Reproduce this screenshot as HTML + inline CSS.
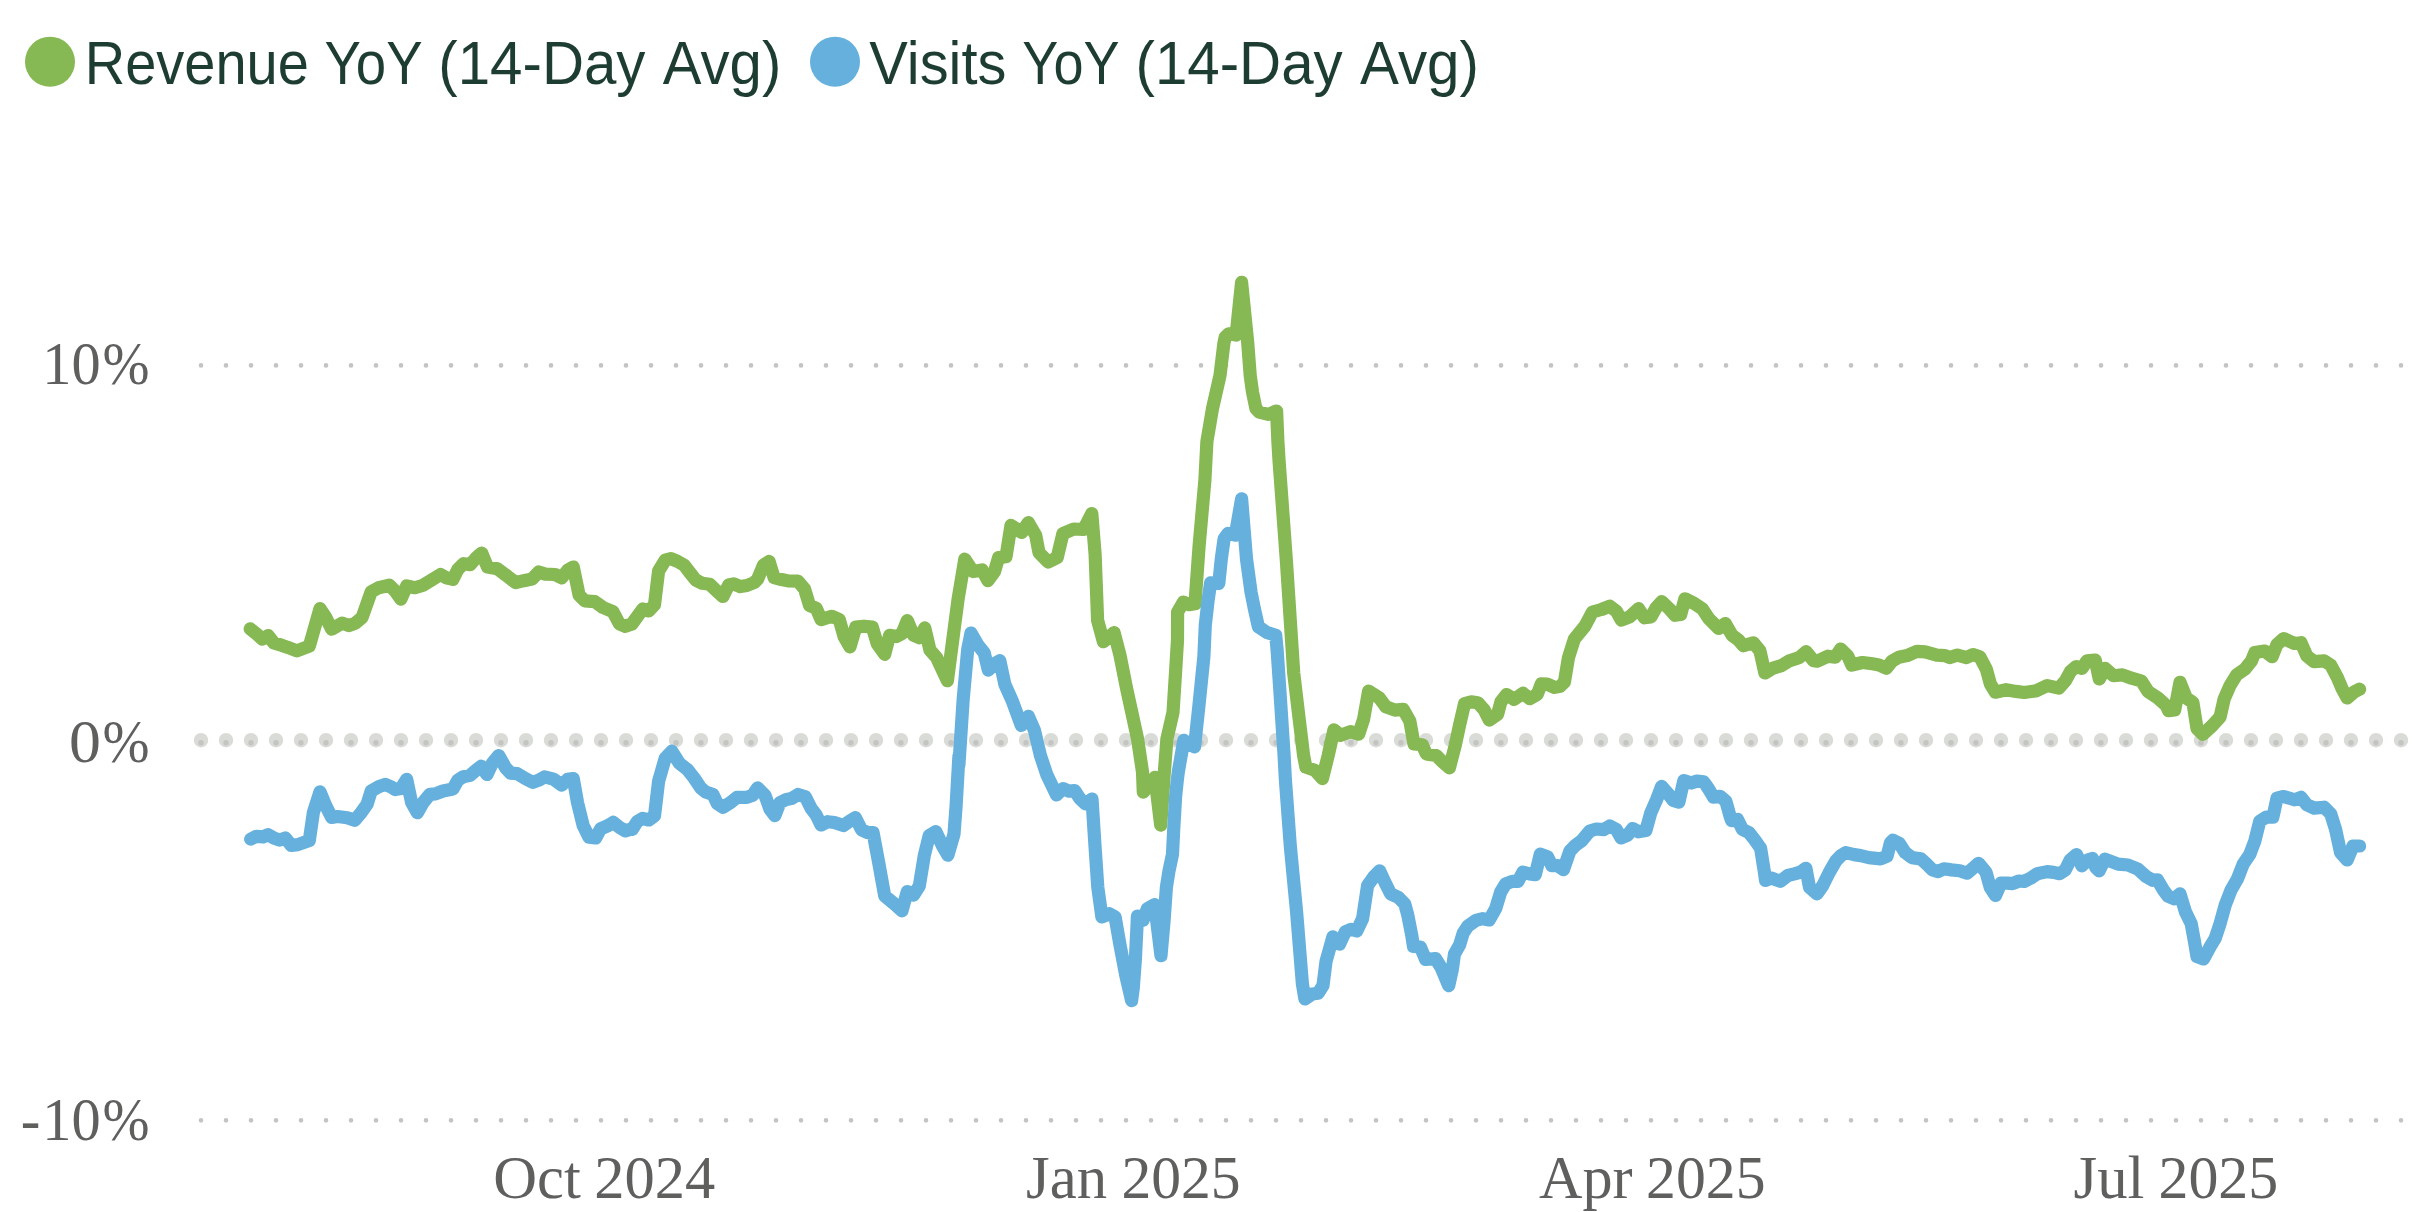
<!DOCTYPE html>
<html><head><meta charset="utf-8"><title>chart</title>
<style>
html,body{margin:0;padding:0;background:#fff;}
body{width:2432px;height:1212px;overflow:hidden;position:relative;}
svg{position:absolute;left:0;top:0;display:block;}
.lg{font-family:"Liberation Sans",sans-serif;font-size:61px;fill:#1e3d32;}
.ax{font-family:"Liberation Serif",serif;font-size:61.5px;fill:#5f605e;}
</style></head><body>
<svg width="2432" height="1212" viewBox="0 0 2432 1212">
<rect width="2432" height="1212" fill="#ffffff"/>
<!-- gridlines -->
<g fill="none" stroke-linecap="round">
<path d="M201,365.4 H2401.5" stroke="#c4c4c2" stroke-width="4.7" stroke-dasharray="0 25"/>
<path d="M201,1120.3 H2401.5" stroke="#c4c4c2" stroke-width="4.7" stroke-dasharray="0 25"/>
<path d="M201,740.2 H2401.5" stroke="#d9dbd7" stroke-width="14.4" stroke-dasharray="0 25"/>
<path d="M201,742.8 H2401.5" stroke="#c4c4c2" stroke-width="5.4" stroke-dasharray="0 25"/>
</g>
<!-- series -->
<g fill="none" stroke-linecap="round" stroke-linejoin="round" stroke-width="13.2">
<path id="green" stroke="#86b854" d="M250.2,628.9 L256.5,633.9 L262.3,639.1 L268.1,635.5 L273.8,642.9 L282.1,645.4 L287.9,647.4 L296.9,650.9 L309.3,646.2 L320.0,608.6 L325.8,617.4 L331.6,629.2 L342.3,623.1 L348.9,625.6 L355.5,623.1 L362.1,617.4 L371.2,591.8 L378.6,587.7 L389.3,585.2 L395.1,591.0 L400.9,599.2 L406.7,586.0 L414.9,587.7 L423.2,585.2 L431.4,580.2 L440.5,574.5 L446.3,577.8 L452.9,579.4 L457.8,569.5 L463.6,563.7 L470.2,564.6 L476.0,558.0 L481.7,553.0 L487.5,567.0 L497.4,568.7 L507.3,576.1 L515.6,582.7 L523.8,580.7 L532.1,579.1 L538.7,572.0 L545.3,574.1 L555.2,574.5 L561.8,577.8 L567.6,570.3 L573.3,567.0 L579.1,595.1 L584.9,600.9 L594.8,601.7 L603.0,607.5 L612.9,611.6 L619.5,624.0 L625.3,626.4 L631.9,624.0 L642.9,608.9 L648.7,610.9 L654.5,604.8 L658.6,571.0 L665.2,560.2 L671.0,558.6 L677.6,561.4 L684.2,565.2 L689.9,572.6 L695.7,580.0 L702.3,583.3 L709.7,584.2 L715.5,589.9 L722.9,596.5 L728.7,585.0 L733.7,583.8 L740.3,586.6 L746.9,585.5 L754.3,582.5 L757.6,579.2 L763.4,565.2 L769.1,561.4 L774.1,577.6 L781.5,579.5 L788.1,580.9 L798.0,581.2 L804.6,589.1 L809.6,605.6 L816.2,608.1 L821.1,619.6 L831.8,616.3 L839.3,619.6 L844.2,637.0 L850.0,646.9 L855.8,627.1 L864.0,626.2 L872.3,627.1 L877.2,643.6 L884.7,654.3 L889.6,635.3 L896.2,636.6 L902.0,633.7 L907.3,620.5 L913.5,635.3 L919.3,637.8 L924.8,627.9 L930.0,650.2 L936.6,657.6 L947.4,680.7 L958.1,599.0 L964.8,559.2 L973.0,571.6 L982.1,569.9 L987.9,580.7 L994.5,571.6 L998.6,557.6 L1006.0,556.7 L1011.0,525.4 L1021.7,532.5 L1028.3,522.6 L1035.7,535.3 L1039.0,552.6 L1048.1,562.0 L1057.2,557.6 L1062.9,533.6 L1073.7,529.0 L1083.6,529.5 L1091.8,513.5 L1095.1,554.3 L1097.6,620.3 L1103.4,641.7 L1114.1,632.6 L1119.9,654.9 L1126.8,689.5 L1137.6,739.0 L1142.5,772.0 L1143.3,792.1 L1154.9,777.3 L1160.7,825.1 L1164.0,777.0 L1166.9,739.0 L1173.0,712.6 L1175.5,673.0 L1177.5,640.0 L1177.6,612.0 L1183.4,602.1 L1189.2,604.6 L1195.0,603.8 L1199.1,546.0 L1204.9,480.0 L1206.9,441.5 L1212.5,408.5 L1220.0,375.5 L1223.9,343.3 L1225.2,337.2 L1228.7,333.8 L1236.1,335.1 L1241.6,282.3 L1247.7,342.5 L1250.2,375.5 L1252.5,392.0 L1255.9,408.5 L1259.2,412.1 L1268.3,414.3 L1276.6,411.0 L1277.9,441.5 L1279.0,460.0 L1286.5,562.5 L1293.7,673.0 L1299.6,722.5 L1303.6,755.5 L1305.9,767.1 L1315.0,770.4 L1322.4,778.6 L1328.2,755.5 L1333.9,729.9 L1340.5,735.4 L1350.4,731.6 L1358.7,734.1 L1363.6,719.2 L1368.6,691.2 L1379.3,697.8 L1385.9,706.8 L1395.0,710.1 L1403.2,709.3 L1409.8,720.9 L1414.0,744.0 L1422.2,744.8 L1426.3,753.9 L1436.2,755.5 L1442.8,762.1 L1449.4,767.9 L1455.2,745.6 L1459.6,725.0 L1464.6,703.6 L1471.2,701.9 L1477.8,702.7 L1484.4,710.2 L1489.3,720.1 L1497.6,714.3 L1500.9,701.9 L1506.6,694.5 L1514.1,699.4 L1523.1,693.3 L1529.7,698.6 L1537.2,694.5 L1541.3,683.8 L1547.1,684.1 L1554.5,687.4 L1560.3,686.2 L1564.4,682.1 L1568.5,657.4 L1574.3,639.2 L1585.0,626.0 L1592.4,612.0 L1601.5,609.5 L1609.8,606.2 L1616.4,611.2 L1621.3,620.2 L1629.6,616.9 L1638.6,608.7 L1644.4,617.8 L1651.0,616.9 L1656.0,607.9 L1661.7,601.6 L1669.2,608.7 L1675.0,615.3 L1680.7,614.5 L1684.9,598.8 L1693.9,603.2 L1702.2,608.7 L1708.8,618.6 L1718.7,628.5 L1725.3,623.5 L1731.9,635.1 L1738.5,640.0 L1743.4,645.8 L1753.3,642.8 L1759.9,650.8 L1764.9,673.0 L1773.1,668.1 L1781.4,665.6 L1789.6,660.7 L1799.5,657.4 L1806.1,651.6 L1813.6,660.7 L1817.1,661.2 L1827.9,656.2 L1835.3,657.2 L1840.6,649.0 L1847.7,655.9 L1851.8,665.0 L1862.5,662.5 L1872.4,663.8 L1879.0,665.0 L1886.4,668.3 L1892.2,660.9 L1898.8,657.2 L1907.1,655.6 L1917.0,651.3 L1925.2,651.8 L1936.8,655.1 L1945.0,655.6 L1950.0,657.6 L1957.4,655.1 L1966.5,657.6 L1973.1,654.6 L1979.7,656.7 L1986.3,669.1 L1990.4,684.0 L1995.3,692.2 L2006.1,689.7 L2016.0,691.4 L2024.2,692.5 L2035.8,690.9 L2047.3,685.6 L2058.9,688.1 L2065.5,680.7 L2070.4,671.6 L2076.2,666.6 L2082.0,668.3 L2086.9,660.9 L2095.2,660.0 L2099.3,679.0 L2105.1,668.3 L2113.3,675.7 L2122.4,674.9 L2131.5,678.2 L2141.4,681.0 L2148.0,691.4 L2157.9,698.0 L2166.1,705.4 L2168.6,710.7 L2174.7,710.0 L2180.0,682.3 L2186.3,698.0 L2192.9,702.4 L2197.0,728.5 L2202.8,734.3 L2211.9,726.0 L2220.1,717.0 L2224.2,698.8 L2230.0,685.6 L2236.6,674.9 L2244.9,669.1 L2251.5,660.9 L2254.8,652.6 L2264.7,651.0 L2272.1,656.7 L2277.0,644.4 L2283.7,638.6 L2294.4,643.5 L2301.0,642.7 L2306.8,655.9 L2314.2,661.7 L2324.1,660.9 L2330.7,665.0 L2337.3,677.4 L2342.2,688.9 L2347.2,698.0 L2353.8,692.2 L2359.6,689.2"/>
<path id="blue" stroke="#65b0dc" d="M250.7,839.1 L256.5,836.3 L263.1,836.8 L268.1,834.7 L273.8,838.0 L279.6,840.1 L285.4,838.0 L291.2,845.4 L297.8,844.6 L309.3,840.5 L313.4,812.4 L320.0,791.8 L325.8,805.8 L331.6,817.4 L337.4,816.5 L347.3,817.7 L354.7,820.3 L361.3,812.4 L367.1,804.2 L371.2,791.0 L378.6,786.8 L385.2,784.4 L391.0,786.8 L395.1,789.6 L400.9,788.5 L406.7,779.4 L411.6,802.5 L417.4,812.7 L423.2,802.5 L429.8,794.3 L435.5,793.9 L443.0,791.0 L452.9,789.0 L457.8,780.2 L462.8,776.9 L470.2,775.3 L476.0,770.3 L481.3,766.2 L487.0,774.5 L492.5,762.9 L498.7,755.5 L505.7,767.9 L510.6,773.1 L517.2,773.6 L525.5,778.6 L532.9,782.4 L538.7,780.2 L544.5,776.9 L553.5,779.1 L561.8,785.2 L567.6,779.4 L573.3,778.6 L577.5,802.5 L583.2,825.6 L589.0,837.2 L595.6,838.0 L600.6,828.9 L608.0,825.6 L613.3,822.3 L619.5,827.3 L625.3,830.9 L631.9,828.9 L632.2,829.4 L637.1,821.7 L642.6,818.4 L648.7,820.0 L654.5,815.9 L658.6,781.3 L665.2,758.2 L671.8,751.2 L679.2,763.1 L687.5,769.7 L694.1,778.0 L700.7,787.9 L705.6,792.0 L713.0,794.5 L717.2,803.5 L722.9,807.3 L730.4,802.7 L737.0,797.4 L746.9,797.4 L752.6,795.3 L757.6,787.9 L765.0,795.3 L770.0,809.3 L774.9,815.6 L779.9,802.7 L786.5,799.4 L791.4,798.6 L798.0,794.5 L805.4,796.9 L811.2,808.5 L816.2,815.1 L821.1,825.0 L827.7,821.7 L834.3,822.5 L843.4,825.5 L850.0,820.9 L855.4,817.6 L861.6,829.9 L867.3,832.4 L873.1,832.7 L878.9,863.8 L884.7,895.9 L893.7,903.4 L902.0,910.8 L907.3,891.5 L913.5,895.1 L919.3,886.0 L924.3,855.5 L929.2,835.7 L935.8,831.6 L942.4,845.6 L947.9,855.2 L954.0,834.1 L956.1,806.0 L958.9,756.5 L958.9,765.0 L963.2,699.0 L967.7,649.5 L971.0,633.0 L977.6,644.6 L984.2,652.8 L988.3,670.1 L994.9,663.5 L999.8,660.7 L1004.8,684.2 L1012.2,700.7 L1021.3,725.4 L1028.4,716.3 L1034.5,730.4 L1040.3,755.1 L1046.9,774.9 L1056.5,794.9 L1063.1,788.6 L1068.9,791.2 L1074.7,790.7 L1079.6,798.2 L1085.4,803.9 L1092.0,799.0 L1095.0,846.0 L1097.8,887.3 L1101.9,917.0 L1109.3,913.7 L1115.1,917.0 L1120.0,945.0 L1125.8,975.5 L1131.6,1000.6 L1133.2,988.7 L1135.4,959.0 L1137.0,926.0 L1137.4,916.1 L1143.1,920.3 L1147.3,908.7 L1154.7,904.6 L1161.0,955.7 L1164.1,920.3 L1166.4,887.3 L1169.0,870.8 L1172.5,854.3 L1173.7,829.5 L1175.6,796.5 L1177.3,780.0 L1178.3,772.0 L1183.8,740.3 L1194.5,746.9 L1198.9,706.0 L1203.9,656.5 L1205.3,625.0 L1208.1,600.3 L1210.6,582.9 L1218.8,583.4 L1221.3,559.0 L1224.1,538.9 L1228.1,533.3 L1235.3,535.2 L1241.6,498.8 L1246.5,559.0 L1251.0,592.0 L1254.3,608.5 L1258.4,626.7 L1266.7,632.4 L1275.7,635.2 L1277.1,649.8 L1279.8,689.5 L1284.1,755.5 L1285.4,780.0 L1290.3,846.0 L1296.6,912.0 L1302.4,983.8 L1304.9,998.9 L1312.3,994.0 L1318.1,993.3 L1323.0,985.4 L1326.0,961.5 L1332.9,936.8 L1339.5,944.2 L1345.3,931.8 L1351.1,929.3 L1356.8,931.0 L1362.6,918.6 L1367.6,885.6 L1373.3,877.4 L1379.6,870.8 L1384.9,882.3 L1390.7,893.9 L1398.1,897.2 L1404.7,903.8 L1407.7,914.7 L1411.8,935.5 L1413.5,946.4 L1420.4,947.0 L1425.6,959.5 L1435.5,958.6 L1441.2,967.8 L1448.7,985.7 L1452.2,970.1 L1454.5,953.9 L1459.7,944.7 L1463.2,933.1 L1467.8,926.2 L1475.9,920.4 L1482.8,918.7 L1489.2,919.9 L1495.7,908.5 L1500.7,892.0 L1505.6,883.8 L1512.2,881.3 L1518.0,881.3 L1522.9,872.2 L1529.5,873.9 L1535.3,874.7 L1540.3,854.1 L1547.7,857.0 L1551.8,865.6 L1557.6,865.6 L1563.4,869.7 L1570.0,850.8 L1574.9,845.8 L1581.5,840.9 L1589.8,831.0 L1596.4,829.0 L1603.8,829.6 L1609.6,826.0 L1616.2,829.3 L1621.1,837.9 L1627.7,835.1 L1632.7,828.5 L1638.4,831.8 L1645.9,830.6 L1650.8,812.8 L1656.6,799.6 L1661.6,786.4 L1668.2,793.8 L1673.1,800.4 L1678.9,802.1 L1683.8,780.6 L1691.3,783.1 L1697.0,781.1 L1703.6,781.8 L1708.6,788.9 L1713.5,797.1 L1720.1,796.3 L1725.9,801.3 L1730.0,816.1 L1731.7,820.7 L1737.5,819.4 L1742.4,829.3 L1749.0,832.6 L1754.8,840.0 L1760.6,848.3 L1764.7,873.9 L1765.5,880.5 L1771.3,878.0 L1780.4,881.3 L1787.8,875.5 L1794.4,873.9 L1800.4,872.1 L1805.9,868.3 L1809.5,887.3 L1816.9,893.9 L1822.7,885.6 L1829.3,872.4 L1835.9,860.9 L1840.9,855.6 L1845.8,852.6 L1854.1,854.6 L1860.7,855.6 L1868.9,857.6 L1880.5,858.9 L1887.1,856.2 L1890.4,842.7 L1892.8,840.2 L1899.4,843.5 L1905.2,852.6 L1911.8,857.6 L1920.9,858.9 L1926.7,864.2 L1932.4,869.9 L1938.2,871.6 L1944.0,868.8 L1951.4,869.9 L1959.7,870.8 L1967.1,873.2 L1972.9,868.3 L1978.6,863.3 L1986.1,872.4 L1990.2,887.3 L1995.6,895.5 L2000.9,883.1 L2007.5,883.1 L2012.5,883.6 L2019.1,881.0 L2024.0,881.5 L2030.6,878.2 L2037.2,873.7 L2047.1,871.6 L2053.7,872.4 L2059.5,873.7 L2065.3,869.9 L2070.2,860.0 L2076.5,854.6 L2081.8,865.8 L2087.6,860.0 L2092.5,858.4 L2095.8,867.5 L2099.1,870.8 L2104.9,859.2 L2111.5,861.7 L2118.1,864.2 L2128.0,865.0 L2137.9,869.1 L2146.1,876.5 L2152.7,880.3 L2157.4,879.8 L2163.2,889.7 L2168.1,896.3 L2173.9,898.8 L2180.0,893.9 L2185.5,912.0 L2191.2,923.6 L2194.5,941.7 L2197.0,956.6 L2203.6,959.0 L2210.2,946.7 L2215.2,938.4 L2220.1,923.6 L2225.1,905.4 L2230.8,890.6 L2237.4,879.0 L2243.2,864.2 L2249.8,854.3 L2254.8,841.1 L2259.7,821.3 L2266.3,817.1 L2272.9,817.1 L2277.0,798.2 L2283.7,796.5 L2294.4,799.8 L2301.0,797.3 L2306.8,804.8 L2314.2,808.1 L2324.1,807.2 L2330.7,813.8 L2335.6,829.5 L2340.6,852.6 L2347.2,860.0 L2353.0,846.0 L2359.6,846.0"/>
</g>
<!-- legend -->
<circle cx="50" cy="61.7" r="25" fill="#86b854"/>
<circle cx="835" cy="61.7" r="25" fill="#65b0dc"/>
<text class="lg" x="84.70" y="83.9" textLength="224.25" lengthAdjust="spacingAndGlyphs">Revenue</text>
<text class="lg" x="324.45" y="83.9" textLength="98.14" lengthAdjust="spacingAndGlyphs">YoY</text>
<text class="lg" x="438.30" y="83.9" textLength="207.18" lengthAdjust="spacingAndGlyphs">(14-Day</text>
<text class="lg" x="662.85" y="83.9" textLength="118.43" lengthAdjust="spacingAndGlyphs">Avg)</text>
<text class="lg" x="869.35" y="83.9" textLength="137.06" lengthAdjust="spacingAndGlyphs">Visits</text>
<text class="lg" x="1022.35" y="83.9" textLength="97.16" lengthAdjust="spacingAndGlyphs">YoY</text>
<text class="lg" x="1135.50" y="83.9" textLength="207.18" lengthAdjust="spacingAndGlyphs">(14-Day</text>
<text class="lg" x="1360.05" y="83.9" textLength="118.90" lengthAdjust="spacingAndGlyphs">Avg)</text>
<text class="ax" x="42.25" y="383.8" textLength="58.35" lengthAdjust="spacingAndGlyphs">10</text>
<text class="ax" x="102.40" y="383.8" textLength="47.03" lengthAdjust="spacingAndGlyphs">%</text>
<text class="ax" x="69.00" y="761.9" textLength="31.92" lengthAdjust="spacingAndGlyphs">0</text>
<text class="ax" x="102.40" y="761.9" textLength="47.03" lengthAdjust="spacingAndGlyphs">%</text>
<text class="ax" x="20.75" y="1139.9" textLength="19.59" lengthAdjust="spacingAndGlyphs">-</text>
<text class="ax" x="42.25" y="1139.9" textLength="58.35" lengthAdjust="spacingAndGlyphs">10</text>
<text class="ax" x="102.40" y="1139.9" textLength="47.03" lengthAdjust="spacingAndGlyphs">%</text>
<text class="ax" x="493.30" y="1197.6" textLength="87.56" lengthAdjust="spacingAndGlyphs">Oct</text>
<text class="ax" x="594.35" y="1197.6" textLength="120.99" lengthAdjust="spacingAndGlyphs">2024</text>
<text class="ax" x="1026.05" y="1197.6" textLength="81.06" lengthAdjust="spacingAndGlyphs">Jan</text>
<text class="ax" x="1121.40" y="1197.6" textLength="119.29" lengthAdjust="spacingAndGlyphs">2025</text>
<text class="ax" x="1538.90" y="1197.6" textLength="93.68" lengthAdjust="spacingAndGlyphs">Apr</text>
<text class="ax" x="1646.05" y="1197.6" textLength="119.45" lengthAdjust="spacingAndGlyphs">2025</text>
<text class="ax" x="2073.55" y="1197.6" textLength="70.84" lengthAdjust="spacingAndGlyphs">Jul</text>
<text class="ax" x="2158.45" y="1197.6" textLength="119.76" lengthAdjust="spacingAndGlyphs">2025</text>
</svg>
</body></html>
